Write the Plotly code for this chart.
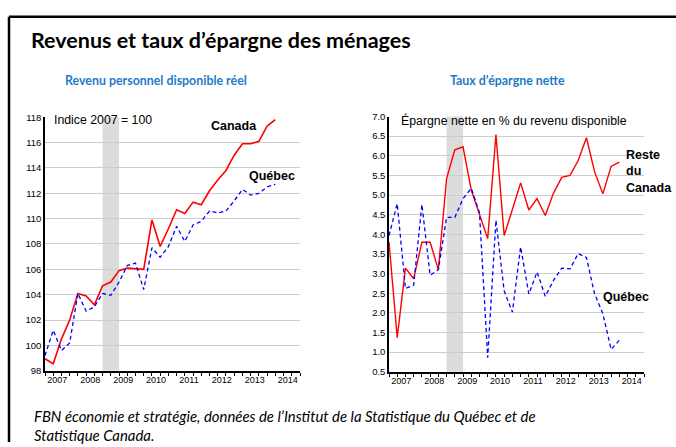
import plotly.graph_objects as go

W, H = 676, 447

# ---------------- data ----------------
years = [2007, 2008, 2009, 2010, 2011, 2012, 2013, 2014]
# quarterly observations 2007T1 .. 2014T1 (29 quarters)
quarters = [f"{y}T{q}" for y in years for q in (1, 2, 3, 4)][:29]

revenu_canada = [98.95, 98.56, 100.5, 102.0, 104.1, 103.9, 103.2, 104.7, 105.0, 105.9,
                 106.1, 106.05, 106.0, 109.9, 107.8, 109.2, 110.7, 110.4, 111.3, 111.1,
                 112.2, 113.05, 113.8, 115.0, 115.9, 115.9, 116.1, 117.3, 117.8]
revenu_quebec = [99.2, 101.2, 99.6, 100.2, 104.1, 102.7, 103.05, 104.1, 103.95, 105.0,
                 106.3, 106.5, 104.4, 107.7, 106.95, 107.8, 109.4, 108.2, 109.5, 109.8,
                 110.6, 110.45, 110.6, 111.4, 112.3, 111.85, 112.0, 112.5, 112.7]

epargne_rdc = [3.80, 1.37, 3.14, 2.87, 3.80, 3.80, 3.10, 5.42, 6.15, 6.23,
               5.13, 4.51, 3.89, 6.54, 3.97, 4.63, 5.31, 4.62, 4.91, 4.48,
               5.05, 5.45, 5.50, 5.88, 6.46, 5.59, 5.03, 5.73, 5.84]
epargne_quebec = [3.97, 4.78, 2.62, 2.71, 4.76, 2.96, 3.10, 4.43, 4.43, 4.91,
                  5.17, 4.55, 0.86, 4.36, 2.56, 2.02, 3.68, 2.48, 3.04, 2.42,
                  2.83, 3.14, 3.12, 3.51, 3.41, 2.48, 1.98, 1.07, 1.30]

recession = ("2008T4", "2009T2")

left_yticks = [98, 100, 102, 104, 106, 108, 110, 112, 114, 116, 118]
right_yticks = [0.5, 1.0, 1.5, 2.0, 2.5, 3.0, 3.5, 4.0, 4.5, 5.0, 5.5, 6.0, 6.5, 7.0]

# ---------------- helpers ----------------
def qpos(label):
    y, q = label.split("T")
    return int(y) + (int(q) - 1) / 4.0

xq = [qpos(q) for q in quarters]
all_q = [y + k / 4.0 for y in years for k in range(4)]
year_centers = [y + 0.375 for y in years]

def px(x):
    return x / W

def py(y):
    return 1 - y / H

RED = "#FF0000"
BLUE = "#0000FF"
NARROW = "Liberation Sans, Arial, sans-serif"
CAL = "Lato, Carlito, Calibri, sans-serif"
DASH = "4px,3px"

fig = go.Figure()
fig.add_trace(go.Scatter(x=xq, y=revenu_canada, mode="lines", line=dict(color=RED, width=1.6),
                         xaxis="x", yaxis="y", name="Canada"))
fig.add_trace(go.Scatter(x=xq, y=revenu_quebec, mode="lines", line=dict(color=BLUE, width=1.3, dash=DASH),
                         xaxis="x", yaxis="y", name="Québec"))
fig.add_trace(go.Scatter(x=xq, y=epargne_rdc, mode="lines", line=dict(color=RED, width=1.4),
                         xaxis="x2", yaxis="y2", name="Reste du Canada"))
fig.add_trace(go.Scatter(x=xq, y=epargne_quebec, mode="lines", line=dict(color=BLUE, width=1.3, dash=DASH),
                         xaxis="x2", yaxis="y2", name="Québec"))

xr = [2007, 2014.75]
xcommon = dict(range=xr, showline=True, linecolor="black", linewidth=1.5, showgrid=False, zeroline=False,
               tickmode="array", tickvals=year_centers, ticktext=[str(y) for y in years], ticks="",
               tickfont=dict(family=NARROW, size=9, color="black"),
               minor=dict(tickmode="array", tickvals=all_q, ticks="outside", ticklen=3,
                          tickcolor="black", tickwidth=1, showgrid=False),
               fixedrange=True)
ycommon = dict(showline=True, linecolor="black", linewidth=1.5, showgrid=True, gridcolor="#CDCDCD",
               gridwidth=1, zeroline=False, tickmode="array", ticks="",
               tickfont=dict(family=NARROW, size=9.5, color="black"), fixedrange=True)

fig.update_layout(
    width=W, height=H, margin=dict(l=0, r=0, t=0, b=0),
    paper_bgcolor="white", plot_bgcolor="white", showlegend=False,
    xaxis=dict(domain=[px(45), px(300)], anchor="y", **xcommon),
    yaxis=dict(domain=[py(374), py(114)], anchor="x", range=[98, 118],
               tickvals=left_yticks, ticktext=[str(v) for v in left_yticks], **ycommon),
    xaxis2=dict(domain=[px(389), px(644)], anchor="y2", **xcommon),
    yaxis2=dict(domain=[py(375), py(113.3)], anchor="x2", range=[0.5, 7.0],
                tickvals=right_yticks, ticktext=[f"{v:.1f}" for v in right_yticks], **ycommon),
)

# recession shading
for xa in ("x", "x2"):
    fig.add_shape(type="rect", xref=xa, yref=f"{'y' if xa == 'x' else 'y2'} domain",
                  x0=qpos(recession[0]), x1=qpos(recession[1]), y0=0, y1=1,
                  fillcolor="#DCDCDC", line=dict(width=0), layer="below")

# frame lines
fig.add_shape(type="line", xref="paper", yref="paper", x0=px(9), x1=1, y0=py(11), y1=py(11),
              line=dict(color="black", width=2.5))
fig.add_shape(type="line", xref="paper", yref="paper", x0=px(9), x1=px(9), y0=py(11), y1=0,
              line=dict(color="black", width=2.5))

def ann(text, x, y, size, family, bold=False, italic=False, color="black", xanchor="left", align="left"):
    if bold:
        text = f"<b>{text}</b>"
    if italic:
        text = f"<i>{text}</i>"
    fig.add_annotation(text=text, x=px(x), y=py(y), xref="paper", yref="paper", showarrow=False,
                       xanchor=xanchor, yanchor="middle", align=align,
                       font=dict(size=size, family=family, color=color))

ann("Revenus et taux d’épargne des ménages", 29, 35, 21.5, CAL, bold=True)
ann("Revenu personnel disponible réel", 156, 76, 12.4, CAL, bold=True, color="#1F7BC8", xanchor="center")
ann("Taux d’épargne nette", 507, 76, 12.4, CAL, bold=True, color="#1F7BC8", xanchor="center")

ann("Indice 2007 = 100", 52, 117, 12.3, NARROW)
ann("Canada", 209, 123, 12.5, NARROW, bold=True)
ann("Québec", 247, 174, 12.5, NARROW, bold=True)
ann("Épargne nette en % du revenu disponible", 399, 117, 12.3, NARROW)
ann("Reste<br>du<br>Canada", 624, 170, 12.5, NARROW, bold=True)
ann("Québec", 601, 298, 12.5, NARROW, bold=True)

ann("FBN économie et stratégie, données de l’Institut de la Statistique du Québec et de", 32, 420, 14.9, CAL, italic=True)
ann("Statistique Canada.", 32, 440, 14.9, CAL, italic=True)

fig.write_html("out.html", config={"displayModeBar": False},
               post_script="document.body.style.margin='0';document.body.style.overflow='hidden';")
